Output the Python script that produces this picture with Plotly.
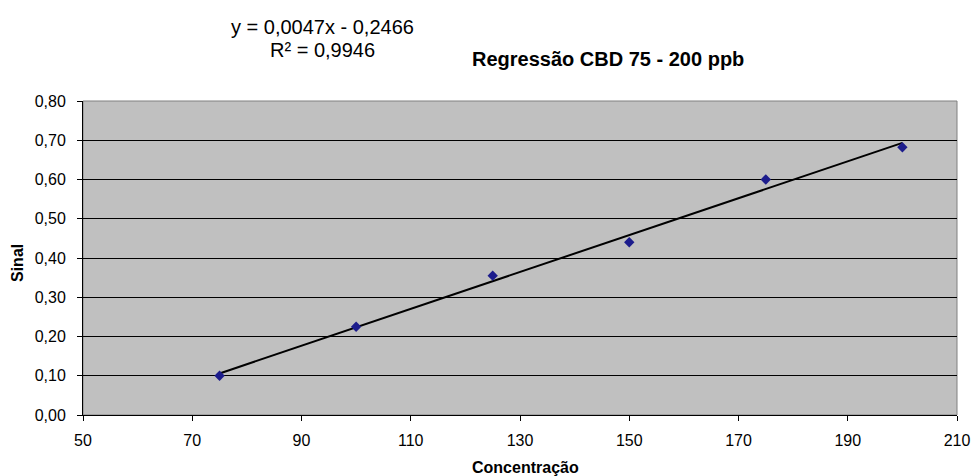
import plotly.graph_objects as go

concentracao = [75, 100, 125, 150, 175, 200]
sinal = [0.10, 0.225, 0.355, 0.44, 0.60, 0.682]
slope = 0.0047
intercept = -0.2466
trend_x = [75, 200]
trend_y = [slope * x + intercept for x in trend_x]
x_ticks = [50, 70, 90, 110, 130, 150, 170, 190, 210]
y_ticks = [0.0, 0.1, 0.2, 0.3, 0.4, 0.5, 0.6, 0.7, 0.8]

font = "Liberation Sans, Arial, sans-serif"

L, R, T, B = 83, 17, 101, 61
PW, PH = 974 - L - R, 476 - T - B


def px(x):
    return (x - L) / PW


def py(y):
    return 1 + (T - y) / PH


fig = go.Figure()
fig.add_trace(go.Scatter(x=trend_x, y=trend_y, mode="lines",
                         line=dict(color="black", width=2), showlegend=False,
                         hoverinfo="skip"))
fig.add_trace(go.Scatter(x=concentracao, y=sinal, mode="markers",
                         marker=dict(symbol="diamond", size=8, color="#1c1c8c"),
                         showlegend=False))

fig.add_shape(type="rect", xref="paper", yref="paper", x0=0, y0=0, x1=1, y1=1,
              line=dict(color="#808080", width=1), layer="below")

fig.update_layout(
    width=974, height=476,
    margin=dict(l=L, r=R, t=T, b=B),
    paper_bgcolor="white", plot_bgcolor="#c0c0c0",
    separators=",.",
    font=dict(family=font, size=13, color="black"),
    annotations=[
        dict(text="Regressão CBD 75 - 200 ppb", xref="paper", yref="paper",
             x=px(608), y=py(59), xanchor="center", yanchor="middle",
             showarrow=False, font=dict(size=20, family=font, color="black", weight="bold")),
        dict(text="y = 0,0047x - 0,2466", xref="paper", yref="paper",
             x=px(322), y=py(27), xanchor="center", yanchor="middle",
             showarrow=False, font=dict(size=20, family=font, color="black")),
        dict(text="R² = 0,9946", xref="paper", yref="paper",
             x=px(322), y=py(50), xanchor="center", yanchor="middle",
             showarrow=False, font=dict(size=20, family=font, color="black")),
        dict(text="<b>Concentração</b>", xref="paper", yref="paper",
             x=px(525), y=py(467), xanchor="center", yanchor="middle",
             showarrow=False, font=dict(size=16, family=font, color="black")),
        dict(text="<b>Sinal</b>", xref="paper", yref="paper",
             x=px(17), y=py(263), xanchor="center", yanchor="middle", textangle=-90,
             showarrow=False, font=dict(size=16, family=font, color="black")),
    ],
)
fig.update_xaxes(range=[50, 210], tickvals=x_ticks, showgrid=False, zeroline=False,
                 showline=True, linecolor="black", linewidth=1, automargin=False,
                 ticks="outside", ticklen=5, tickcolor="black",
                 ticklabelstandoff=6,
                 tickfont=dict(size=16))
fig.update_yaxes(range=[0, 0.8], tickvals=y_ticks, tickformat=".2f",
                 showgrid=True, gridcolor="black", gridwidth=1, zeroline=False,
                 showline=True, linecolor="black", linewidth=1, automargin=False,
                 ticks="outside", ticklen=5, tickcolor="black",
                 ticklabelstandoff=8,
                 tickfont=dict(size=16))

fig.write_html("out.html")
